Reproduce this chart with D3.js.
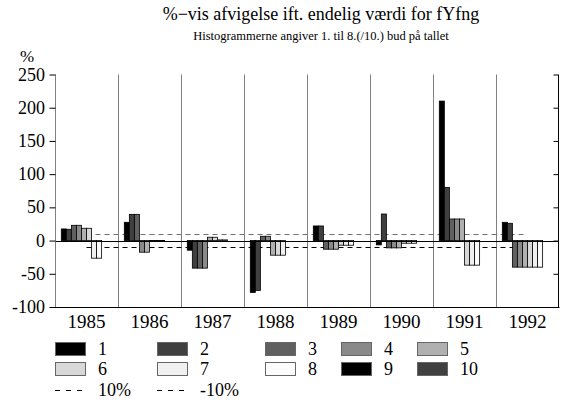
<!DOCTYPE html>
<html><head><meta charset="utf-8">
<script src="https://cdn.jsdelivr.net/npm/d3@7"></script>
<style>body{margin:0;background:#fff}svg{display:block}svg text{font-family:"Liberation Serif","DejaVu Serif",serif}</style>
</head><body><svg id="c" width="564" height="406"></svg>
<script>
const years = ["1985","1986","1987","1988","1989","1990","1991","1992"];
const seriesNames = ["1","2","3","4","5","6","7","8","9","10"];
const s1 = [17.5, 27.5, -14.5, -78, 22, -6.5, 210, 27.5];
const s2 = [17, 39.5, -41.5, -75, 22, 40, 80, 26];
const s3 = [23, 39.5, -41.5, 6.5, -13, -11, 32.5, -40];
const s4 = [23, -17.5, -41.5, 6.5, -13, -11, 32.5, -40];
const s5 = [18.5, -17.5, 5, -22, -13, -11, 32.5, -40];
const s6 = [18.5, -1, 5, -22, -7, -4, -37, -40];
const s7 = [-26.5, -1, 1, -22, -7, -4, -37, -40];
const s8 = [-26.5, -1, 1, 0, -7, -4, -37, -40];
const s9 = [null, null, null, null, null, null, null, null];
const s10 = [null, null, null, null, null, null, null, null];
const plus10 = [10, 10, 10, 10, 10, 10, 10, 10];
const minus10 = [-10, -10, -10, -10, -10, -10, -10, -10];
const yTicks = [250, 200, 150, 100, 50, 0, -50, -100];
const fills = ["#000000","#404040","#606060","#8a8a8a","#b0b0b0","#d8d8d8","#f0f0f0","#fcfcfc","#000000","#404040"];
const allSeries = [s1,s2,s3,s4,s5,s6,s7,s8,s9,s10];

const svg = d3.select("#c");
const L = 55, R = 559, T = 74.5, B = 307;
const x0 = d3.scaleBand().domain(years).range([L, R]);
const bw = x0.bandwidth();
const x1 = d3.scaleBand().domain(seriesNames).range([bw*0.1, bw*0.9]);
const y = d3.scaleLinear().domain([-100, 250]).range([B, T]);

// titles
svg.append("text").attr("x", 321).attr("y", 20).attr("text-anchor","middle")
  .attr("font-size", 18).text("%−vis afvigelse ift. endelig værdi for fYfng");
svg.append("text").attr("x", 321).attr("y", 40).attr("text-anchor","middle")
  .attr("font-size", 12.5).text("Histogrammerne angiver 1. til 8.(/10.) bud på tallet");
svg.append("text").attr("x", 20).attr("y", 62).attr("font-size", 17).text("%");

// separators
svg.append("g").selectAll("line").data(years.slice(1)).join("line")
  .attr("x1", d => Math.round(x0(d))+0.5).attr("x2", d => Math.round(x0(d))+0.5)
  .attr("y1", T).attr("y2", B).attr("stroke", "#808080").attr("stroke-width", 1);

// dashed ref lines
const line = d3.line().x((d,i) => x0(years[i]) + bw/2).y(d => Math.round(y(d))+0.5);
svg.append("path").attr("d", line(plus10)).attr("fill","none").attr("stroke","#707070").attr("stroke-dasharray","5,4");
svg.append("path").attr("d", line(minus10)).attr("fill","none").attr("stroke","#000").attr("stroke-dasharray","5,4");

// bars
const bars = [];
allSeries.forEach((s, si) => s.forEach((v, yi) => { if (v !== null) bars.push({si, yi, v}); }));
svg.append("g").selectAll("rect").data(bars).join("rect")
  .attr("x", d => x0(years[d.yi]) + x1(seriesNames[d.si]))
  .attr("width", x1.bandwidth())
  .attr("y", d => y(Math.max(0, d.v)))
  .attr("height", d => Math.abs(y(d.v) - y(0)))
  .attr("fill", d => fills[d.si]).attr("stroke", "#000").attr("stroke-width", 0.8);

// zero line
svg.append("line").attr("x1", L).attr("x2", R).attr("y1", Math.round(y(0))+0.5).attr("y2", Math.round(y(0))+0.5)
  .attr("stroke", "#000");

// left axis (ticks via d3 axis, labels via scale)
const ax = svg.append("g").attr("transform", `translate(${L+0.5},0)`)
  .call(d3.axisLeft(y).tickValues(yTicks).tickSize(6).tickFormat(""));
ax.select(".domain").attr("stroke", "#808080").attr("d", `M0,${T}V${B}`);
ax.selectAll(".tick line").attr("stroke", "#000");
svg.append("g").selectAll("text").data(yTicks).join("text")
  .attr("x", 45).attr("y", d => y(d)).attr("dy", "0.34em").attr("text-anchor", "end")
  .attr("font-size", 18).text(d => String(d));

// right axis
const ar = svg.append("g").attr("transform", `translate(${R-0.5},0)`)
  .call(d3.axisLeft(y).tickValues(yTicks).tickSize(5).tickFormat(""));
ar.select(".domain").attr("stroke", "#000").attr("d", `M0,${T}V${B}`);
ar.selectAll(".tick line").attr("x2", -5);

// bottom line
svg.append("line").attr("x1", L).attr("x2", R+0.5).attr("y1", B+0.5).attr("y2", B+0.5).attr("stroke", "#000");

// year labels
svg.append("g").selectAll("text").data(years).join("text")
  .attr("x", d => x0(d) + bw/2).attr("y", 328).attr("text-anchor","middle").attr("font-size", 19).text(d => d);

// legend
const colX = [55, 157, 265, 341, 417];
const rowY = [349, 369, 390];
const lg = svg.append("g");
seriesNames.forEach((n, i) => {
  const cx = colX[i % 5], cy = rowY[Math.floor(i / 5)];
  lg.append("rect").attr("x", cx+0.5).attr("y", cy-6.5).attr("width", 30).attr("height", 13)
    .attr("fill", fills[i]).attr("stroke", "#666");
  lg.append("text").attr("x", cx+43).attr("y", cy).attr("dy","0.35em").attr("font-size", 18).text(n);
});
[["10%", "#707070"], ["-10%", "#000"]].forEach((e, i) => {
  const cx = colX[i], cy = rowY[2];
  lg.append("line").attr("x1", cx).attr("x2", cx+30).attr("y1", cy+0.5).attr("y2", cy+0.5)
    .attr("stroke", "#000").attr("stroke-dasharray", "5,6");
  lg.append("text").attr("x", cx+43).attr("y", cy).attr("dy","0.35em").attr("font-size", 18).text(e[0]);
});
</script></body></html>
